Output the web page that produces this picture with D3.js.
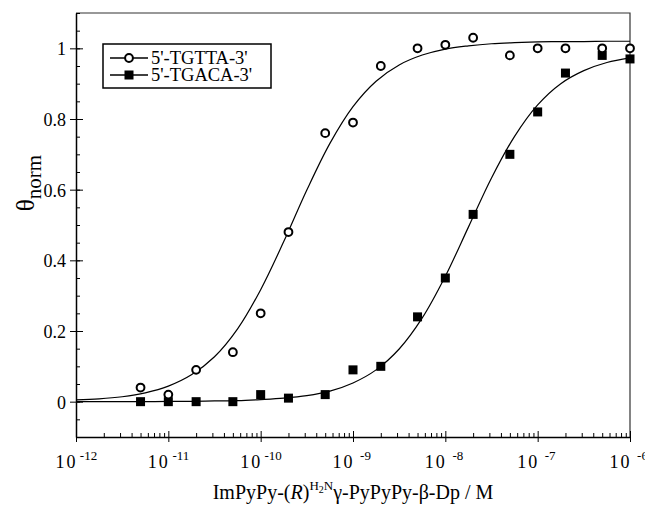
<!DOCTYPE html>
<html>
<head>
<meta charset="utf-8">
<script src="https://cdn.jsdelivr.net/npm/d3@7"></script>
<style>
  body { margin: 0; background: #fff; }
  svg text { font-family: 'Liberation Serif', 'Times New Roman', serif; }
</style>
</head>
<body>
<div id="app"></div>
<script>
const W = 645, H = 508
const M = { left: 76, right: 15, top: 13, bottom: 71 }
const FONT = "'Liberation Serif', 'Times New Roman', serif"

// concentrations (M)
const conc = [5e-12, 1e-11, 2e-11, 5e-11, 1e-10, 2e-10, 5e-10, 1e-9, 2e-9, 5e-9,
  1e-8, 2e-8, 5e-8, 1e-7, 2e-7, 5e-7, 1e-6]
const tgtta = [0.04, 0.02, 0.09, 0.14, 0.25, 0.48, 0.76, 0.79, 0.95, 1.0,
  1.01, 1.03, 0.98, 1.0, 1.0, 1.0, 1.0]
const tgaca = [0.0, 0.0, 0.0, 0.0, 0.02, 0.01, 0.02, 0.09, 0.10, 0.24,
  0.35, 0.53, 0.70, 0.82, 0.93, 0.98, 0.97]

// fitted curves, read at every quarter decade from 1e-12 to 1e-6
const fitExp = [-12, -11.75, -11.5, -11.25, -11, -10.75, -10.5, -10.25, -10, -9.75, -9.5, -9.25,
  -9, -8.75, -8.5, -8.25, -8, -7.75, -7.5, -7.25, -7, -6.75, -6.5, -6.25, -6]
const fitTgtta = [0.005, 0.008, 0.014, 0.025, 0.044, 0.076, 0.127, 0.206, 0.317, 0.453, 0.599, 0.731,
  0.835, 0.907, 0.953, 0.981, 0.998, 1.007, 1.013, 1.016, 1.018, 1.019, 1.019, 1.020, 1.020]
const fitTgaca = [0.0, 0.0, 0.0, 0.0, 0.001, 0.001, 0.002, 0.003, 0.006, 0.010, 0.017, 0.030,
  0.053, 0.090, 0.149, 0.237, 0.355, 0.494, 0.633, 0.751, 0.840, 0.900, 0.937, 0.960, 0.973]

const xExps = [-12, -11, -10, -9, -8, -7, -6]
const yTicks = [0, 0.2, 0.4, 0.6, 0.8, 1]
const legendLabels = ["5'-TGTTA-3'", "5'-TGACA-3'"]

const x = d3.scaleLog().domain([1e-12, 1e-6]).range([M.left, W - M.right])
const y = d3.scaleLinear().domain([-0.1, 1.1]).range([H - M.bottom, M.top])

const svg = d3.select('#app').append('svg')
  .attr('width', W).attr('height', H)
  .attr('font-family', FONT)

// frame top/right
svg.append('path')
  .attr('d', `M${x.range()[0]},${y.range()[1]}H${x.range()[1]}V${y.range()[0]}`)
  .attr('fill', 'none').attr('stroke', '#333').attr('stroke-width', 1.2)

// x minor ticks (inward)
const minorX = []
for (let e = -12; e < -6; e++) for (let k = 2; k <= 9; k++) minorX.push(k * Math.pow(10, e))
svg.append('g')
  .attr('transform', `translate(0,${y.range()[0]})`)
  .call(d3.axisBottom(x).tickValues(minorX).tickSize(-4).tickFormat(''))
  .call(g => g.select('.domain').remove())

// x major ticks crossing the axis
const xMajor = xExps.map(e => Math.pow(10, e))
svg.append('g')
  .attr('transform', `translate(0,${y.range()[0]})`)
  .call(d3.axisBottom(x).tickValues(xMajor).tickSize(-6).tickFormat(''))
  .call(g => g.select('.domain').remove())
const xAxis = svg.append('g')
  .attr('transform', `translate(0,${y.range()[0]})`)
  .call(d3.axisBottom(x).tickValues(xMajor).tickSize(5).tickSizeOuter(0).tickFormat(''))
  .attr('font-family', FONT)
xAxis.select('.domain').attr('stroke-width', 1.5)
xAxis.selectAll('.tick').each(function (d, i) {
  // "10" centred on the tick, exponent hanging to the right
  const g = d3.select(this)
  g.append('text')
    .attr('fill', '#000').attr('x', -10).attr('y', 31)
    .attr('letter-spacing', '2px')
    .style('font-size', '18px').text('10')
  g.append('text')
    .attr('fill', '#000').attr('x', 12).attr('y', 23)
    .style('font-size', '13px').text('-' + (-xExps[i]))
})

// y axis
const minorY = d3.range(-0.1, 1.1001, 0.05).map(v => +v.toFixed(2))
svg.append('g')
  .attr('transform', `translate(${x.range()[0]},0)`)
  .call(d3.axisLeft(y).tickValues(minorY).tickSize(-4).tickFormat(''))
  .call(g => g.select('.domain').remove())
svg.append('g')
  .attr('transform', `translate(${x.range()[0]},0)`)
  .call(d3.axisLeft(y).tickValues(yTicks).tickSize(-7).tickFormat(''))
  .call(g => g.select('.domain').remove())
const yAxis = svg.append('g')
  .attr('transform', `translate(${x.range()[0]},0)`)
  .call(d3.axisLeft(y).tickValues(yTicks).tickSize(6).tickSizeOuter(0).tickPadding(4).tickFormat(d3.format('~g')))
  .attr('font-family', FONT)
yAxis.select('.domain').attr('stroke-width', 1.5)
yAxis.selectAll('text').style('font-size', '18px').attr('dy', '0.36em')
svg.selectAll('.tick line').attr('stroke', '#000')

// fitted curves
const line = d3.line()
  .x(d => x(Math.pow(10, d[0])))
  .y(d => y(d[1]))
  .curve(d3.curveCatmullRom)
;[fitTgtta, fitTgaca].forEach(s => {
  svg.append('path')
    .datum(fitExp.map((e, i) => [e, s[i]]))
    .attr('d', line)
    .attr('fill', 'none').attr('stroke', '#000').attr('stroke-width', 1.2)
})

// markers
svg.append('g').selectAll('rect')
  .data(conc.map((c, i) => [c, tgaca[i]]))
  .join('rect')
  .attr('x', d => x(d[0]) - 4.5).attr('y', d => y(d[1]) - 4.5)
  .attr('width', 9).attr('height', 9).attr('fill', '#000')
svg.append('g').selectAll('circle')
  .data(conc.map((c, i) => [c, tgtta[i]]))
  .join('circle')
  .attr('cx', d => x(d[0])).attr('cy', d => y(d[1]))
  .attr('r', 3.9).attr('fill', '#fff').attr('stroke', '#000').attr('stroke-width', 2)

// legend
const lg = svg.append('g')
lg.append('rect').attr('x', 103).attr('y', 44).attr('width', 168).attr('height', 44)
  .attr('fill', '#fff').attr('stroke', '#000').attr('stroke-width', 1.5)
legendLabels.forEach((lab, i) => {
  const ly = 58 + i * 17
  lg.append('line').attr('x1', 110).attr('x2', 148).attr('y1', ly).attr('y2', ly)
    .attr('stroke', '#000').attr('stroke-width', 1.5)
  if (i === 0) {
    lg.append('circle').attr('cx', 129).attr('cy', ly).attr('r', 3.9)
      .attr('fill', '#fff').attr('stroke', '#000').attr('stroke-width', 2)
  } else {
    lg.append('rect').attr('x', 124.5).attr('y', ly - 4.5).attr('width', 9).attr('height', 9)
  }
  lg.append('text').attr('x', 151).attr('y', ly).attr('dy', '0.33em')
    .style('font-size', '18.5px').text(lab)
})

// x title
const xt = svg.append('text')
  .attr('x', 353).attr('y', 499).attr('text-anchor', 'middle')
  .style('font-size', '20px')
xt.append('tspan').text('ImPyPy-(')
xt.append('tspan').text('R').style('font-style', 'italic')
xt.append('tspan').text(')')
xt.append('tspan').text('H').attr('dy', -9).style('font-size', '13px')
xt.append('tspan').text('2').attr('dy', 3).style('font-size', '10px')
xt.append('tspan').text('N').attr('dy', -3).style('font-size', '13px')
xt.append('tspan').text('γ-PyPyPy-β-Dp / M').attr('dy', 9)

// y title
const yt = svg.append('text')
  .attr('transform', 'translate(34,183) rotate(-90)')
  .attr('text-anchor', 'middle')
  .style('font-size', '25px')
yt.append('tspan').text('θ')
yt.append('tspan').text('norm').attr('dy', 7).style('font-size', '21px')
</script>
</body>
</html>
